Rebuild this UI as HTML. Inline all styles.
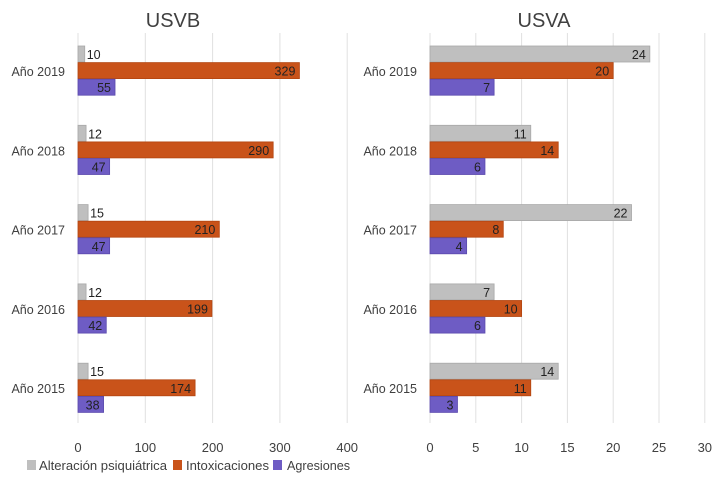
<!DOCTYPE html>
<html><head><meta charset="utf-8"><style>
body{margin:0;background:#fff;font-family:"Liberation Sans",sans-serif;}
svg text{font-family:"Liberation Sans",sans-serif;}
</style></head><body>
<svg id="c" width="719" height="489" xmlns="http://www.w3.org/2000/svg"></svg>
<script>
const years = ["Año 2019","Año 2018","Año 2017","Año 2016","Año 2015"];
const usvbAlt = [10,12,15,12,15];
const usvbInt = [329,290,210,199,174];
const usvbAgr = [55,47,47,42,38];
const usvaAlt = [24,11,22,7,14];
const usvaInt = [20,14,8,10,11];
const usvaAgr = [7,6,4,6,3];
const usvbTicks = [0,100,200,300,400];
const usvaTicks = [0,5,10,15,20,25,30];
const seriesNames = ["Alteración psiquiátrica","Intoxicaciones","Agresiones"];
const colors = ["#bfbfbf","#c9531a","#6e5cc4"];
const strokes = ["#a8a8a8","#b34510","#5a49ad"];
const svg = document.getElementById('c');
const NS = "http://www.w3.org/2000/svg";
function mk(tag, attrs, parent){const e=document.createElementNS(NS,tag);for(const k in attrs)e.setAttribute(k,attrs[k]);(parent||svg).appendChild(e);return e;}
function panel(title, key, titleX, x0, pxPerUnit, ticks, series, labelX){
  const g = mk('g',{});
  
  
  const xs = v => x0 + v*pxPerUnit;
  const t = mk('text',{x:titleX,y:27,'text-anchor':'middle','font-size':20,fill:'#404040'},g);
  t.textContent = title;
  
  
  ticks.forEach(tv=>{
    const l = mk('line',{x1:xs(tv),x2:xs(tv),y1:33,y2:423,stroke:'#e0e0e0','stroke-width':1},g);
    
    
    const tt = mk('text',{x:xs(tv),y:452,'text-anchor':'middle','font-size':13,fill:'#404040'},g);
    tt.textContent = tv;
    
    
  });
  years.forEach((y,i)=>{
    const cy = 71 + i*79.3;
    const lab = mk('text',{x:labelX,y:cy+5,'text-anchor':'end','font-size':12.5,fill:'#404040'},g);
    lab.textContent = y;
    
    
    series.forEach((arr,s)=>{
      const top = cy - 25 + s*16.6;
      const w = xs(arr[i]) - x0;
      const r = mk('rect',{x:x0,y:top,width:w,height:16,fill:colors[s],stroke:strokes[s],'stroke-width':0.8},g);
      
      
      const vt = mk('text',{y:top+13,'font-size':12.5,fill:'#222'},g);
      if (w < 22) { vt.setAttribute('x', x0+w+2); vt.setAttribute('text-anchor','start'); }
      else { vt.setAttribute('x', x0+w-4); vt.setAttribute('text-anchor','end'); }
      vt.textContent = arr[i];
      
      
    });
  });
}
panel("USVB","usvb",173,78,0.673,usvbTicks,[usvbAlt,usvbInt,usvbAgr],65);
panel("USVA","usva",544,430,9.16,usvaTicks,[usvaAlt,usvaInt,usvaAgr],417);
// legend
const lg = mk('g',{});


const swX = [27,173,273];
const txX = [39,186,287];
const txW = [128,83,63];
seriesNames.forEach((n,s)=>{
  const r = mk('rect',{x:swX[s],y:460,width:9,height:10,fill:colors[s]},lg);
  
  
  const t = mk('text',{x:txX[s],y:470,'font-size':13,fill:'#404040',textLength:txW[s],lengthAdjust:'spacingAndGlyphs'},lg);
  t.textContent = n;
  
  
});
</script>
</body></html>
